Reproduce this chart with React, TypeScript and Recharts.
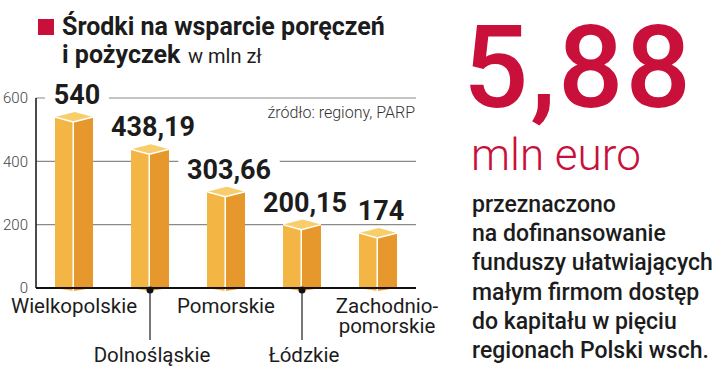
import React from 'react';
import { BarChart, Bar, XAxis, YAxis, CartesianGrid, LabelList } from 'recharts';

const categories = ['Wielkopolskie', 'Dolnośląskie', 'Pomorskie', 'Łódzkie', 'Zachodnio-pomorskie'];
const amounts = [540, 438.19, 303.66, 200.15, 174];
const yTicks = [0, 200, 400, 600];
const noteLines = [
  'przeznaczono',
  'na dofinansowanie',
  'funduszy ułatwiających',
  'małym firmom dostęp',
  'do kapitału w pięciu',
  'regionach Polski wsch.',
];

const data = categories.map((name, i) => ({ name, amount: amounts[i] }));

const RED = '#c8103a';
const FONT = 'Roboto, "Noto Sans", sans-serif';

const fmt = (v: number) => String(v).replace('.', ',');

const PrismBar = (props: any) => {
  const { x, y, width, height } = props;
  if (!height) return null;
  const d = 5;
  const fx = x + width * 0.48;
  const bx = x + width * 0.52;
  const bottom = y + height;
  return (
    <g>
      <polygon points={`${x},${y} ${fx},${y + d} ${fx},${bottom + 3} ${x},${bottom}`} fill="#f3b645" />
      <polygon points={`${fx},${y + d} ${x + width},${y} ${x + width},${bottom} ${fx},${bottom + 3}`} fill="#e6982c" />
      <polygon points={`${x},${y} ${bx},${y - d} ${x + width},${y} ${fx},${y + d}`} fill="#f8cd6c" />
      <polyline points={`${x},${y} ${fx},${y + d} ${x + width},${y}`} fill="none" stroke="#fff" strokeWidth={1.5} />
      <line x1={fx} y1={y + d} x2={fx} y2={bottom + 3} stroke="#fff" strokeWidth={1.5} />
    </g>
  );
};

const ValueLabel = (props: any) => {
  const { x, y, width, value } = props;
  const text = fmt(value);
  const tw = text.replace(',', '').length * 15.3 + (text.includes(',') ? 7 : 0);
  const cx = x + width / 2 + 3;
  const base = y - 13;
  return (
    <g>
      <rect x={cx - tw / 2 - 9} y={base - 24} width={tw + 18} height={28} fill="#fff" />
      <text x={cx} y={base} textAnchor="middle" fontFamily={FONT} fontWeight={700} fontSize={27} fill="#1c1c1c">
        {text}
      </text>
    </g>
  );
};

const CategoryTick = (props: any) => {
  const { x, y, payload, index } = props;
  const name: string = payload.value;
  const lines = name.includes('-') ? [name.slice(0, name.indexOf('-') + 1), name.slice(name.indexOf('-') + 1)] : [name];
  const lower = index % 2 === 1;
  const style = { fontFamily: FONT, fontSize: 20.5, fill: '#1c1c1c' };
  if (lower) {
    return (
      <g>
        <line x1={x} y1={y + 2} x2={x} y2={y + 52} stroke="#777" strokeWidth={2} />
        <circle cx={x} cy={y + 2} r={3.5} fill="#111" />
        <text x={x + 2} y={y + 74} textAnchor="middle" {...style}>{name}</text>
      </g>
    );
  }
  return (
    <g>
      {lines.map((l, i) => (
        <text key={l} x={x + (lines.length > 1 ? 9 : 0)} y={y + 25 + i * 20} textAnchor="middle" {...style}>{l}</text>
      ))}
    </g>
  );
};

export default function App() {
  return (
    <div style={{ position: 'absolute', left: 0, top: 0, width: 720, height: 392, background: '#fff' }}>
      <BarChart
        width={720}
        height={392}
        data={data}
        margin={{ top: 98, right: 304, bottom: 0, left: 0 }}
        barSize={38}
      >
        <CartesianGrid vertical={false} stroke="#8a8a8a" strokeWidth={1.2} />
        <YAxis
          domain={[0, 600]}
          ticks={yTicks}
          width={36}
          tickLine={false}
          tickSize={0}
          tickMargin={8}
          axisLine={{ stroke: '#111', strokeWidth: 1.5 }}
          tick={{ fontFamily: FONT, fontSize: 15, fontWeight: 300, fill: '#444' }}
        />
        <XAxis
          dataKey="name"
          height={104}
          tickLine={false}
          tickSize={0}
          tickMargin={0}
          interval={0}
          axisLine={{ stroke: '#111', strokeWidth: 2 }}
          tick={<CategoryTick />}
        />
        <Bar dataKey="amount" shape={<PrismBar />} isAnimationActive={false}>
          <LabelList dataKey="amount" content={<ValueLabel />} />
        </Bar>
      </BarChart>
      <svg width={720} height={392} style={{ position: 'absolute', left: 0, top: 0, pointerEvents: 'none' }}>
        <rect x={38} y={19} width={16} height={16} fill={RED} />
        <text x={62} y={35} fontFamily={FONT} fontWeight={700} fontSize={25} fill="#1c1c1c">
          Środki na wsparcie poręczeń
        </text>
        <text x={62} y={63} fontFamily={FONT} fontWeight={700} fontSize={25} fill="#1c1c1c">
          i pożyczek
        </text>
        <text x={188} y={63} fontFamily={FONT} fontSize={20} fill="#1c1c1c">
          w mln zł
        </text>
        <text x={415} y={118} textAnchor="end" fontFamily={FONT} fontWeight={300} fontSize={16} fill="#333">
          źródło: regiony, PARP
        </text>
        <text x={463} y={107} fontFamily={FONT} fontWeight={500} fontSize={115} letterSpacing={2} fill={RED}>
          5,88
        </text>
        <text x={471} y={170} fontFamily={FONT} fontWeight={300} fontSize={44} fill={RED}>
          mln euro
        </text>
        {noteLines.map((l, i) => (
          <text key={l} x={472} y={212 + i * 29.2} fontFamily={FONT} fontWeight={500} fontSize={23} fill="#1c1c1c">
            {l}
          </text>
        ))}
      </svg>
    </div>
  );
}
